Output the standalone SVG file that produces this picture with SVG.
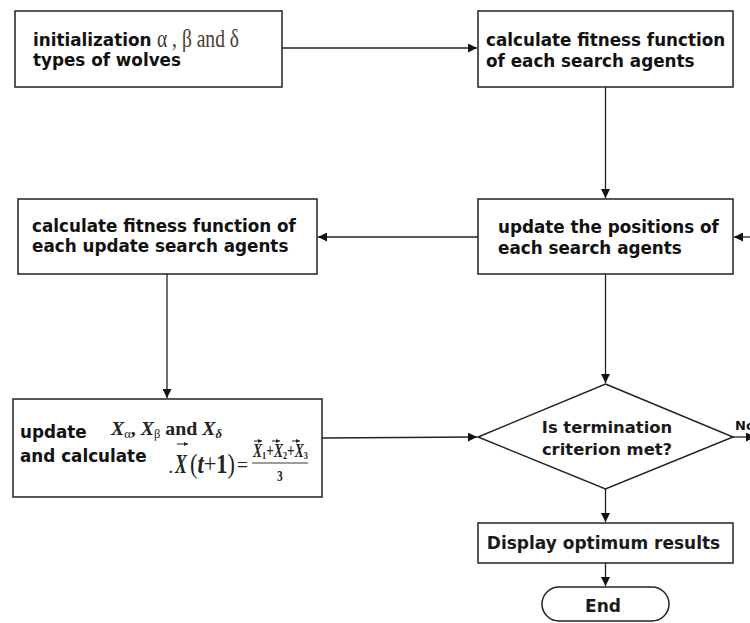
<svg xmlns="http://www.w3.org/2000/svg" width="750" height="623" viewBox="0 0 750 623">
<style>
.box{fill:#fff;stroke:#222;stroke-width:1.5}
.t{font-family:"DejaVu Sans",Verdana,sans-serif;font-weight:bold;font-size:16.8px;fill:#111}
.d{font-family:"DejaVu Sans",Verdana,sans-serif;font-weight:bold;font-size:16.4px;fill:#1a1a1a}
.m{font-family:"Liberation Serif","Times New Roman",serif;fill:#222;font-weight:bold}
.c{fill:none;stroke:#222;stroke-width:1.3}
.v{fill:none;stroke:#222;stroke-width:1}
</style>
<defs>
<marker id="ah" viewBox="0 0 10 10" refX="10" refY="5" markerWidth="9" markerHeight="9" markerUnits="userSpaceOnUse" orient="auto">
<path d="M0,0 L10,5 L0,10 z" fill="#111"/>
</marker>
<marker id="vh" viewBox="0 0 10 10" refX="10" refY="5" markerWidth="4" markerHeight="4" markerUnits="userSpaceOnUse" orient="auto">
<path d="M0,0 L10,5 L0,10 z" fill="#222"/>
</marker>
</defs>
<rect width="750" height="623" fill="#fff"/>
<g id="connectors">
<line class="c" x1="282" y1="48" x2="477" y2="48" marker-end="url(#ah)"/>
<line class="c" x1="605.5" y1="87" x2="605.5" y2="198" marker-end="url(#ah)"/>
<line class="c" x1="478" y1="237" x2="318" y2="237" marker-end="url(#ah)"/>
<line class="c" x1="752" y1="237" x2="734" y2="237" marker-end="url(#ah)"/>
<line class="c" x1="167" y1="274" x2="167" y2="398" marker-end="url(#ah)"/>
<line class="c" x1="605.5" y1="274" x2="605.5" y2="383" marker-end="url(#ah)"/>
<line class="c" x1="322" y1="438" x2="477" y2="437" marker-end="url(#ah)"/>
<line class="c" x1="733" y1="437" x2="755" y2="437" marker-end="url(#ah)"/>
<line class="c" x1="605.5" y1="489" x2="605.5" y2="522" marker-end="url(#ah)"/>
<line class="c" x1="605.5" y1="563" x2="605.5" y2="586" marker-end="url(#ah)"/>
<text x="735" y="430" style="font-family:'DejaVu Sans',sans-serif;font-weight:bold;font-size:13px;fill:#111">No</text>
</g>
<g id="init">
<rect class="box" x="15" y="11" width="267" height="76"/>
<text class="t" x="33" y="46">initialization</text>
<text x="157" y="47" textLength="82" lengthAdjust="spacingAndGlyphs" style="font-family:'Liberation Serif','Times New Roman',serif;font-size:26px;fill:#4a3a2e">α , β and δ</text>
<text class="t" x="33" y="66">types of wolves</text>
</g>
<g id="fitness">
<rect class="box" x="478" y="11" width="255" height="76"/>
<text class="t" x="486" y="46">calculate fitness function</text>
<text class="t" x="486" y="67">of each search agents</text>
</g>
<g id="updatepos">
<rect class="box" x="478" y="199" width="255" height="75"/>
<text class="t" x="498" y="233">update the positions of</text>
<text class="t" x="498" y="254">each search agents</text>
</g>
<g id="fitness2">
<rect class="box" x="18" y="199" width="299" height="75"/>
<text class="t" x="32" y="232">calculate fitness function of</text>
<text class="t" x="32" y="252">each update search agents</text>
</g>
<g id="updateX">
<rect class="box" x="13" y="399" width="309" height="98"/>
<text class="t" x="20" y="438">update</text>
<text class="t" x="20" y="462">and calculate</text>
<text class="m" x="111" y="435" textLength="111" lengthAdjust="spacingAndGlyphs" style="font-size:19px"><tspan font-style="italic">X</tspan><tspan font-size="12" dy="3" font-weight="normal">α</tspan><tspan dy="-3">, </tspan><tspan font-style="italic">X</tspan><tspan font-size="12" dy="3" font-weight="normal">β</tspan><tspan dy="-3"> and </tspan><tspan font-style="italic">X</tspan><tspan font-size="12" dy="3" font-style="italic">δ</tspan></text>
<text class="m" x="169" y="473" style="font-size:14px">.</text>
<text class="m" transform="translate(175,473) scale(0.64,1)" style="font-size:28px;font-style:italic">X</text>
<text class="m" transform="translate(190,473)" textLength="45" lengthAdjust="spacingAndGlyphs" style="font-size:28px;font-weight:normal">(<tspan font-style="italic" font-weight="bold">t</tspan>+<tspan font-weight="bold">1</tspan>)</text>
<text class="m" transform="translate(237,472)" textLength="11" lengthAdjust="spacingAndGlyphs" style="font-size:22px;font-weight:normal">=</text>
<path class="v" d="M177,444 H188" marker-end="url(#vh)"/>
<text class="m" transform="translate(253,457)" textLength="55" lengthAdjust="spacingAndGlyphs" style="font-size:18px"><tspan font-style="italic">X</tspan><tspan font-size="11" dy="2">1</tspan><tspan dy="-2">+</tspan><tspan font-style="italic">X</tspan><tspan font-size="11" dy="2">2</tspan><tspan dy="-2">+</tspan><tspan font-style="italic">X</tspan><tspan font-size="11" dy="2">3</tspan></text>
<path class="v" d="M254,441 H262" marker-end="url(#vh)"/>
<path class="v" d="M272,441 H280" marker-end="url(#vh)"/>
<path class="v" d="M292,441 H300" marker-end="url(#vh)"/>
<line x1="252" y1="463" x2="308" y2="463" stroke="#222" stroke-width="0.9"/>
<text class="m" transform="translate(277,481) scale(0.75,1)" style="font-size:15px">3</text>
</g>
<g id="decision">
<polygon class="box" points="605.5,384 733,437 605.5,489 478,437"/>
<text class="d" x="607" y="433" text-anchor="middle">Is termination</text>
<text class="d" x="607" y="455" text-anchor="middle">criterion met?</text>
</g>
<g id="display">
<rect class="box" x="478" y="523" width="255" height="40"/>
<text class="d" x="603.5" y="549" text-anchor="middle" style="font-size:17px">Display optimum results</text>
</g>
<g id="end">
<rect class="box" x="542" y="587" width="127" height="34" rx="17" ry="17"/>
<text class="d" x="603" y="612" text-anchor="middle" style="font-size:17px">End</text>
</g>
</svg>
